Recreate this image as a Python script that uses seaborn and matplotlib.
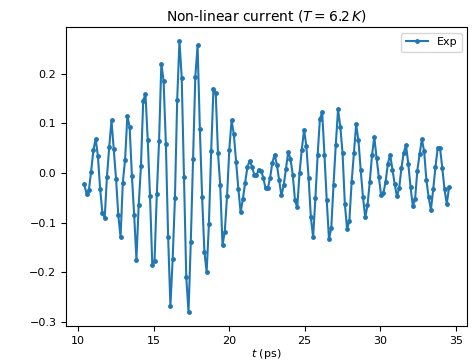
import matplotlib
matplotlib.use('Agg')
import matplotlib.pyplot as plt
import seaborn as sns

# time axis (ps): one sample every ~0.15 ps
t = [10.41, 10.56, 10.71, 10.86, 11.01, 11.16, 11.31, 11.46, 11.61, 11.76,
     11.91, 12.06, 12.21, 12.36, 12.51, 12.66, 12.81, 12.96, 13.11, 13.26,
     13.41, 13.56, 13.71, 13.86, 14.01, 14.16, 14.31, 14.46, 14.61, 14.76,
     14.91, 15.06, 15.21, 15.36, 15.51, 15.66, 15.81, 15.96, 16.11, 16.26,
     16.41, 16.56, 16.71, 16.86, 17.01, 17.16, 17.31, 17.46, 17.61, 17.76,
     17.91, 18.06, 18.21, 18.36, 18.51, 18.66, 18.81, 18.96, 19.11, 19.26,
     19.41, 19.56, 19.71, 19.86, 20.01, 20.16, 20.31, 20.46, 20.61, 20.76,
     20.91, 21.06, 21.21, 21.36, 21.51, 21.66, 21.81, 21.96, 22.11, 22.26,
     22.41, 22.56, 22.71, 22.86, 23.01, 23.16, 23.31, 23.46, 23.61, 23.76,
     23.91, 24.06, 24.21, 24.36, 24.51, 24.66, 24.81, 24.96, 25.11, 25.26,
     25.41, 25.56, 25.71, 25.86, 26.01, 26.16, 26.31, 26.46, 26.61, 26.76,
     26.91, 27.06, 27.21, 27.36, 27.51, 27.66, 27.81, 27.96, 28.11, 28.26,
     28.41, 28.56, 28.71, 28.86, 29.01, 29.16, 29.31, 29.46, 29.61, 29.76,
     29.91, 30.06, 30.21, 30.36, 30.51, 30.66, 30.81, 30.96, 31.11, 31.26,
     31.41, 31.56, 31.71, 31.86, 32.01, 32.16, 32.31, 32.46, 32.61, 32.76,
     32.91, 33.06, 33.21, 33.36, 33.51, 33.66, 33.81, 33.96, 34.11, 34.26,
     34.41, 34.56]

# non-linear current
current = [-0.023, -0.042, -0.035, 0.003, 0.046, 0.069, 0.034, -0.033, -0.081, -0.090,
           -0.007, 0.053, 0.106, 0.048, -0.011, -0.085, -0.129, -0.019, 0.027, 0.115,
           0.093, -0.005, -0.084, -0.174, -0.065, 0.014, 0.146, 0.159, 0.066, -0.047,
           -0.184, -0.176, -0.043, 0.065, 0.220, 0.185, 0.059, -0.129, -0.267, -0.173,
           -0.051, 0.148, 0.266, 0.191, -0.008, -0.209, -0.280, -0.138, 0.029, 0.194,
           0.257, 0.089, -0.048, -0.158, -0.199, -0.102, 0.045, 0.169, 0.162, 0.041,
           -0.025, -0.145, -0.118, -0.047, 0.047, 0.106, 0.078, 0.023, -0.032, -0.079,
           -0.052, -0.019, 0.012, 0.025, 0.013, -0.003, -0.004, 0.007, 0.005, -0.009,
           -0.031, -0.031, -0.010, 0.021, 0.037, 0.017, -0.014, -0.045, -0.025, 0.008,
           0.042, 0.029, -0.003, -0.055, -0.069, 0.000, 0.047, 0.087, 0.055, -0.009,
           -0.089, -0.129, -0.051, 0.037, 0.109, 0.122, 0.037, -0.054, -0.133, -0.111,
           -0.024, 0.057, 0.128, 0.093, 0.040, -0.062, -0.113, -0.096, -0.018, 0.041,
           0.098, 0.066, 0.006, -0.048, -0.089, -0.065, -0.018, 0.036, 0.073, 0.031,
           -0.008, -0.044, -0.041, -0.017, 0.019, 0.037, 0.007, -0.022, -0.047, -0.030,
           0.011, 0.041, 0.056, 0.019, -0.028, -0.066, -0.053, 0.005, 0.038, 0.068,
           0.044, -0.014, -0.049, -0.074, -0.033, 0.012, 0.051, 0.051, 0.011, -0.033,
           -0.062, -0.029]

fig, ax = plt.subplots(figsize=(4.72, 3.64), dpi=100)
sns.lineplot(x=t, y=current, ax=ax, marker='o', markersize=3.5,
             markeredgewidth=0, color='#1f77b4', label='Exp')
ax.set_title(r'Non-linear current ($T = 6.2\,K$)', fontsize=10, pad=5)
ax.set_xlabel(r'$t$ (ps)', fontsize=8, labelpad=1)
ax.set_ylabel('')
ax.tick_params(labelsize=8)
ax.legend(loc='upper right', fontsize=8)

fig.subplots_adjust(left=0.14, right=0.99, bottom=0.105, top=0.925)
fig.savefig('out.png')
